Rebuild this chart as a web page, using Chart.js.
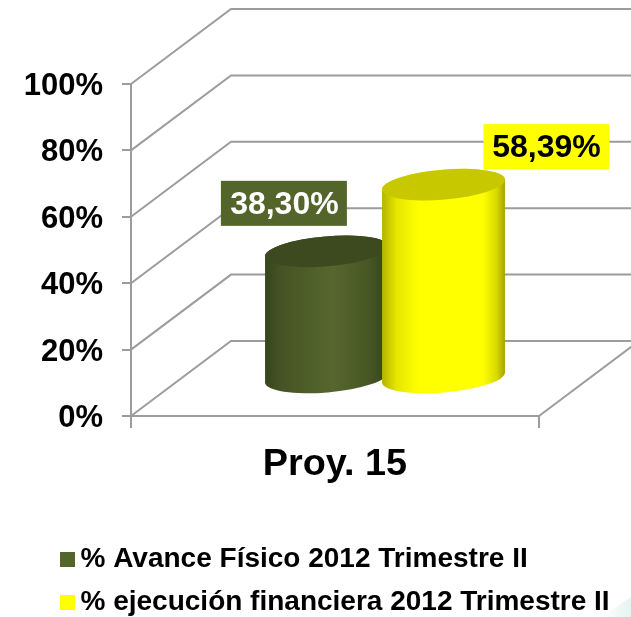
<!DOCTYPE html>
<html>
<head>
<meta charset="utf-8">
<script src="https://cdn.jsdelivr.net/npm/chart.js@4"></script>
<style>
  html, body { margin: 0; padding: 0; background: #fff; overflow: hidden; }
  #wrap { position: relative; width: 631px; height: 617px; }
</style>
</head>
<body>
<div id="wrap"><canvas id="chart" width="631" height="617"></canvas></div>
<script>
// Data
const categories = ['Proy. 15'];
const seriesNames = ['% Avance Físico 2012 Trimestre II', '% ejecución financiera 2012 Trimestre II'];
const avanceFisico = [38.30];
const ejecucionFinanciera = [58.39];
const yMax = 100;
const yStep = 20;

const FONT = '"Liberation Sans", Arial, sans-serif';
const GRID = '#9c9c9c';
const GRID_WIDTH = 2;
const DEPTH_X = 100;   // back wall offset of the fake 3D box
const DEPTH_Y = 75;

const looks = [
    { top: '#3d4a20', stops: [[0, '#36431d'], [0.12, '#445324'], [0.55, '#56672d'], [0.85, '#465625'], [1, '#36431d']], box: '#53652b', text: '#ffffff', dx: -42.6, dy: -85.5, textDx: 0.5 },
    { top: '#c8c800', stops: [[0, '#b3b300'], [0.12, '#e6e600'], [0.3, '#ffff00'], [0.82, '#ffff00'], [0.93, '#d9d900'], [1, '#a3a300']], box: '#ffff00', text: '#000000', dx: 103, dy: -75.5, textDx: 0 }
];

function drawCylinder(ctx, bar, look) {
    const rx = bar.width / 2;
    const ry = 15;
    const tilt = -0.085;
    const cx = bar.x + DEPTH_X / 2;
    const topY = bar.y - DEPTH_Y / 2;
    const baseY = bar.base - DEPTH_Y / 2;

    const grad = ctx.createLinearGradient(cx - rx, 0, cx + rx, 0);
    look.stops.forEach(s => grad.addColorStop(s[0], s[1]));

    ctx.save();
    // body
    ctx.beginPath();
    ctx.ellipse(cx, baseY, rx, ry, tilt, 0, Math.PI);
    ctx.ellipse(cx, topY, rx, ry, tilt, Math.PI, 0);
    ctx.closePath();
    ctx.fillStyle = grad;
    ctx.fill();
    // lid
    ctx.beginPath();
    ctx.ellipse(cx, topY, rx, ry, tilt, 0, Math.PI * 2);
    ctx.fillStyle = look.top;
    ctx.fill();
    ctx.restore();
}

const cylinderPlugin = {
    id: 'cylinders',
    // pale slide background showing in the corner
    beforeDraw(chart) {
        const { ctx, width, height } = chart;
        const grad = ctx.createLinearGradient(width - 30, height - 5, width, height);
        grad.addColorStop(0, 'rgba(200,232,225,0)');
        grad.addColorStop(1, 'rgba(200,232,225,0.5)');
        ctx.save();
        ctx.fillStyle = grad;
        ctx.beginPath();
        ctx.moveTo(width - 30, height);
        ctx.lineTo(width, height - 20);
        ctx.lineTo(width, height);
        ctx.closePath();
        ctx.fill();
        ctx.restore();
    },
    // back walls and floor, from the y scale ticks
    beforeDatasetsDraw(chart) {
        const { ctx, scales: { x, y } } = chart;
        ctx.save();
        ctx.strokeStyle = GRID;
        ctx.lineWidth = GRID_WIDTH;
        y.ticks.forEach(t => {
            const py = y.getPixelForValue(t.value);
            ctx.beginPath();
            ctx.moveTo(x.left, py);
            ctx.lineTo(x.left + DEPTH_X, py - DEPTH_Y);
            ctx.lineTo(chart.width + 10, py - DEPTH_Y);
            ctx.stroke();
        });
        const floor = y.getPixelForValue(0);
        ctx.beginPath();
        ctx.moveTo(x.right, floor);
        ctx.lineTo(x.right + DEPTH_X, floor - DEPTH_Y);
        ctx.stroke();
        ctx.restore();
    },
    // the stock rectangles are replaced by cylinders below
    beforeDatasetDraw() {
        return false;
    },
    afterDatasetsDraw(chart) {
        const { ctx } = chart;
        chart.data.datasets.forEach((ds, i) => {
            const bar = chart.getDatasetMeta(i).data[0];
            drawCylinder(ctx, bar, looks[i]);
        });
        chart.data.datasets.forEach((ds, i) => {
            const bar = chart.getDatasetMeta(i).data[0];
            const look = looks[i];
            const txt = ds.data[0].toFixed(2).replace('.', ',') + '%';
            const cx = bar.x + DEPTH_X / 2 + look.dx;
            const cy = bar.y + look.dy;
            ctx.save();
            ctx.fillStyle = look.box;
            ctx.fillRect(cx - 63, cy - 22.5, 126, 45);
            ctx.fillStyle = look.text;
            ctx.font = 'bold 32px ' + FONT;
            ctx.textAlign = 'center';
            ctx.textBaseline = 'middle';
            ctx.fillText(txt, cx + look.textDx, cy + 2);
            ctx.restore();
        });
        // legend
        chart.data.datasets.forEach((ds, i) => {
            const rowY = 559.5 + i * 43;
            ctx.save();
            ctx.fillStyle = ds.backgroundColor;
            ctx.fillRect(60, rowY - 7.5, 15, 15);
            ctx.fillStyle = '#000000';
            ctx.font = 'bold 28px ' + FONT;
            ctx.textAlign = 'left';
            ctx.textBaseline = 'middle';
            ctx.fillText(ds.label, 80.5, rowY);
            ctx.restore();
        });
    }
};

new Chart(document.getElementById('chart'), {
    type: 'bar',
    data: {
        labels: categories,
        datasets: [
            { label: seriesNames[0], data: avanceFisico, backgroundColor: '#53652b' },
            { label: seriesNames[1], data: ejecucionFinanciera, backgroundColor: '#ffff00' }
        ]
    },
    options: {
        responsive: false,
        animation: false,
        categoryPercentage: 0.5735,
        barPercentage: 1.054,
        layout: { padding: { top: 84, right: 92, bottom: 0, left: 0 } },
        plugins: {
            legend: { display: false },
            title: { display: false },
            tooltip: { enabled: false }
        },
        scales: {
            x: {
                afterFit: s => { s.height = 201; },
                border: { color: GRID, width: GRID_WIDTH },
                grid: { drawOnChartArea: false, drawTicks: true, tickLength: 12, color: GRID, lineWidth: GRID_WIDTH },
                ticks: { color: '#000000', padding: 14, font: { family: FONT, weight: 'bold', size: 37.8 } }
            },
            y: {
                min: 0,
                max: yMax,
                afterFit: s => { s.width = 131; },
                border: { color: GRID, width: GRID_WIDTH },
                grid: { drawOnChartArea: false, drawTicks: true, tickLength: 9, color: GRID, lineWidth: GRID_WIDTH },
                ticks: {
                    stepSize: yStep,
                    color: '#000000',
                    padding: 19,
                    labelOffset: 2.5,
                    font: { family: FONT, weight: 'bold', size: 31 },
                    callback: v => v + '%'
                }
            }
        }
    },
    plugins: [cylinderPlugin]
});
</script>
</body>
</html>
